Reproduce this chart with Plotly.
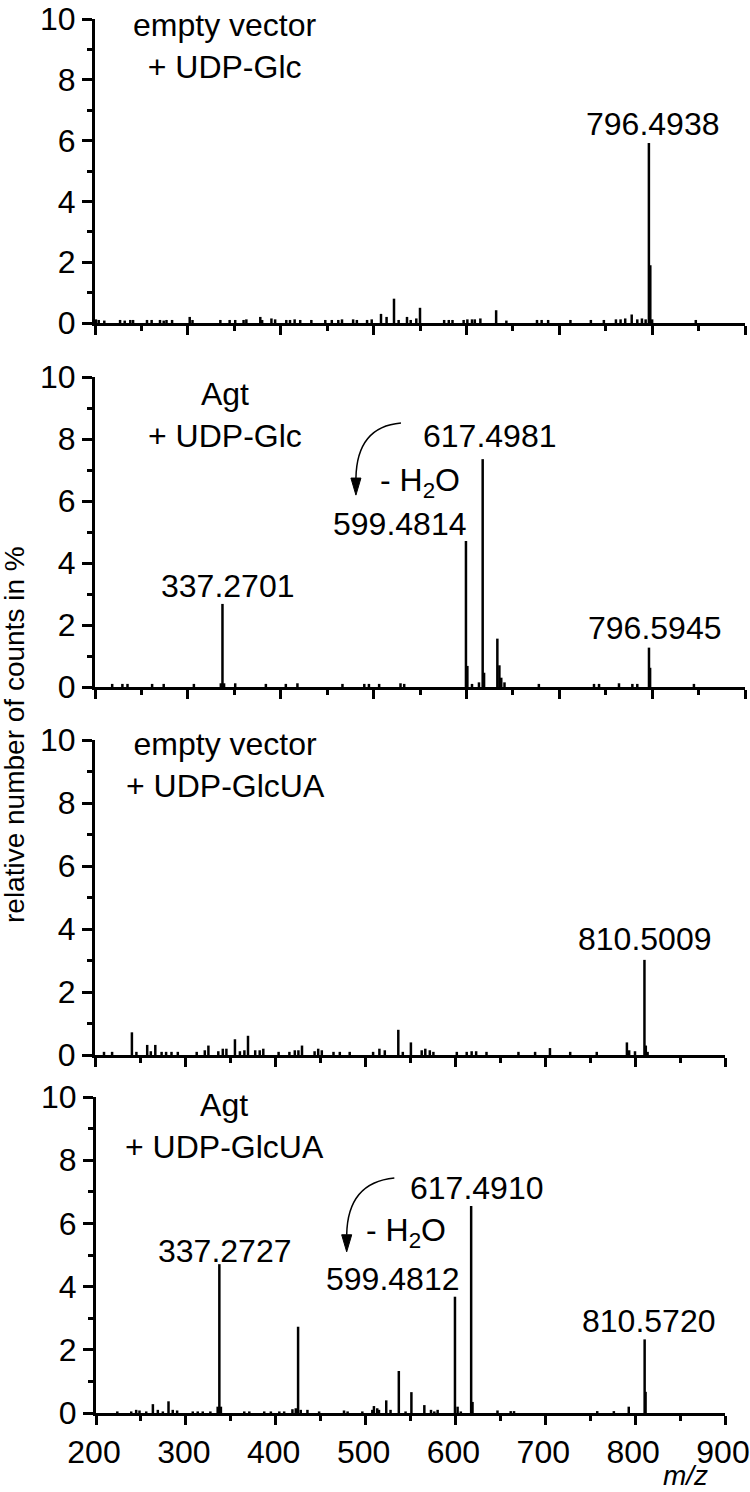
import plotly.graph_objects as go

# ---------------- data ----------------
# Panel 1: empty vector + UDP-Glc
p1_mz = [201, 204, 210, 227, 232, 238, 241, 256, 261, 270, 274, 277, 283, 302, 305, 335, 345, 351,
         360, 363, 378, 380, 390, 394, 406, 410, 415, 421, 433, 448, 455, 462, 466, 478, 482, 493,
         498, 508, 514, 522, 527, 536, 540, 546, 550, 576, 581, 585, 597, 601, 606, 609, 615, 632,
         643, 676, 681, 688, 712, 734, 748, 761, 766, 771, 778, 784, 789, 793, 796.4938, 798, 800, 847]
p1_int = [0.12, 0.1, 0.08, 0.1, 0.08, 0.1, 0.1, 0.1, 0.1, 0.1, 0.08, 0.1, 0.1, 0.2, 0.1, 0.1, 0.1, 0.1,
          0.1, 0.12, 0.2, 0.1, 0.15, 0.12, 0.1, 0.1, 0.12, 0.1, 0.1, 0.1, 0.1, 0.1, 0.12, 0.12, 0.1, 0.1,
          0.12, 0.3, 0.2, 0.8, 0.1, 0.2, 0.1, 0.15, 0.5, 0.1, 0.1, 0.1, 0.1, 0.12, 0.12, 0.12, 0.15, 0.42,
          0.08, 0.1, 0.1, 0.1, 0.1, 0.1, 0.1, 0.12, 0.12, 0.15, 0.28, 0.12, 0.15, 0.12, 5.92, 1.9, 0.12, 0.1]

# Panel 2: Agt + UDP-Glc
p2_mz = [218.5, 229.5, 235, 261.5, 274, 306.5, 335.5, 337.2701, 339, 351, 384, 405.5, 418, 466.5, 490,
         495, 506, 529, 533, 599.4814, 601, 606, 613.5, 617.4981, 619, 633.3, 635.5, 637.5, 641, 678,
         737.4, 742.8, 764.3, 778.7, 784, 796.5945, 797.8, 845]
p2_int = [0.1, 0.1, 0.1, 0.1, 0.1, 0.1, 0.12, 2.68, 0.12, 0.12, 0.1, 0.1, 0.12, 0.1, 0.1,
          0.1, 0.1, 0.12, 0.1, 4.71, 0.68, 0.1, 0.15, 7.35, 0.46, 1.56, 0.7, 0.3, 0.15, 0.1,
          0.1, 0.1, 0.12, 0.1, 0.1, 1.27, 0.62, 0.1]

# Panel 3: empty vector + UDP-GlcUA
p3_mz = [210, 219, 241, 246, 258, 262, 267, 274, 279, 285, 292, 313, 322, 326, 337, 342, 346, 355.5,
         361, 366, 370, 378, 383, 387, 404, 416, 422, 426, 430, 444, 448, 452, 465, 472, 483, 509,
         516, 522, 537, 542, 551, 563, 567, 572, 576, 602, 613, 618.5, 623.5, 635, 670.5, 689,
         705.5, 728, 757.5, 791, 793.5, 800, 810.5009, 812, 814]
p3_int = [0.1, 0.1, 0.72, 0.1, 0.32, 0.12, 0.32, 0.1, 0.1, 0.1, 0.1, 0.1, 0.15, 0.3, 0.12, 0.2, 0.2, 0.5,
          0.12, 0.15, 0.61, 0.15, 0.15, 0.2, 0.1, 0.1, 0.15, 0.15, 0.3, 0.12, 0.2, 0.15, 0.1, 0.1, 0.1, 0.1,
          0.2, 0.15, 0.8, 0.1, 0.4, 0.15, 0.2, 0.15, 0.1, 0.1, 0.1, 0.12, 0.12, 0.1, 0.1, 0.1,
          0.22, 0.1, 0.1, 0.4, 0.15, 0.12, 3.02, 0.3, 0.1]

# Panel 4: Agt + UDP-GlcUA
p4_mz = [223.7, 239.2, 244.7, 248.4, 255.9, 263.3, 268.8, 274.4, 280.7, 285.4, 290.3, 307.7, 313.2,
         318.8, 327.3, 335.4, 337.2727, 339, 365, 370.6, 387.2, 394.6, 404, 409.4, 418.6, 422.3, 424.9,
         427.9, 435.3, 448.3, 476, 480, 496.4, 507.5, 509.3, 513, 514.9, 523, 527.8, 537, 544.5, 551,
         565.4, 572.8, 576.5, 580.2, 599.4812, 602.4, 606, 617.4910, 619, 646.8, 661.5, 665.2, 757.8,
         776.3, 792.9, 810.5720, 811.6]
p4_int = [0.05, 0.05, 0.1, 0.08, 0.05, 0.28, 0.1, 0.05, 0.37, 0.1, 0.08, 0.05, 0.05,
          0.05, 0.05, 0.2, 4.71, 0.2, 0.05, 0.05, 0.05, 0.05, 0.05, 0.05, 0.12, 0.15, 2.73,
          0.1, 0.1, 0.05, 0.08, 0.05, 0.05, 0.1, 0.22, 0.15, 0.1, 0.4, 0.1, 1.33, 0.05, 0.66,
          0.25, 0.1, 0.05, 0.1, 3.68, 0.2, 0.05, 6.55, 0.35, 0.08, 0.06, 0.06, 0.06,
          0.06, 0.2, 2.33, 0.67]

panel_titles = ["empty vector<br>+ UDP-Glc", "Agt<br>+ UDP-Glc",
                "empty vector<br>+ UDP-GlcUA", "Agt<br>+ UDP-GlcUA"]
p1_labels = ["796.4938"]
p2_labels = ["617.4981", "599.4814", "337.2701", "796.5945"]
p3_labels = ["810.5009"]
p4_labels = ["617.4910", "599.4812", "337.2727", "810.5720"]
x_ticks = [200, 300, 400, 500, 600, 700, 800, 900]
y_ticks = [0, 2, 4, 6, 8, 10]

FONT = "Liberation Sans, Arial, Helvetica, sans-serif"
FS = 32
W, H = 750, 1492

# panel plot areas in page pixels: (x0, x1, ytop, ybottom)
areas = [(95, 745, 19, 323), (95, 745, 377, 687), (95, 725, 740, 1055), (96, 725, 1097, 1413)]

fig = go.Figure()


def sticks(mz, h):
    xs, ys = [], []
    for m, v in zip(mz, h):
        xs += [m, m, None]
        ys += [0, v, None]
    return xs, ys


series = [(p1_mz, p1_int), (p2_mz, p2_int), (p3_mz, p3_int), (p4_mz, p4_int)]
for i, (mz, h) in enumerate(series):
    xs, ys = sticks(mz, h)
    sfx = "" if i == 0 else str(i + 1)
    fig.add_trace(go.Scatter(x=xs, y=ys, mode="lines", line=dict(color="black", width=2.5),
                             xaxis="x" + sfx, yaxis="y" + sfx, showlegend=False, hoverinfo="skip",
                             cliponaxis=False))

layout = dict(width=W, height=H, margin=dict(l=0, r=0, t=0, b=0, pad=0, autoexpand=False),
              paper_bgcolor="white", plot_bgcolor="white",
              font=dict(family=FONT, size=FS, color="black"), showlegend=False)


def px_x(p):
    return p / W


def px_y(p):
    return 1 - p / H


for i, (x0, x1, yt, yb) in enumerate(areas):
    sfx = "" if i == 0 else str(i + 1)
    layout["xaxis" + sfx] = dict(
        domain=[px_x(x0), px_x(x1)], anchor="y" + sfx, range=[200, 900], showgrid=False,
        zeroline=False, automargin=False, showline=True, linewidth=3, linecolor="black",
        ticks="outside", ticklen=9, tickwidth=2.5, tickcolor="black", tickvals=x_ticks,
        showticklabels=(i == 3), ticklabeloverflow="allow", ticklabelshift=-2,
        tickfont=dict(family=FONT, size=FS),
        minor=dict(dtick=50, tick0=250, ticks="outside", ticklen=5, tickwidth=2.5, tickcolor="black",
                   showgrid=False))
    layout["yaxis" + sfx] = dict(
        domain=[px_y(yb), px_y(yt)], anchor="x" + sfx, range=[0, 10], showgrid=False,
        zeroline=False, automargin=False, showline=True, linewidth=3, linecolor="black",
        ticks="outside", ticklen=10, tickwidth=2.5, tickcolor="black", tickvals=y_ticks,
        ticklabeloverflow="allow", tickfont=dict(family=FONT, size=FS),
        minor=dict(dtick=1, tick0=1, ticks="outside", ticklen=5, tickwidth=2.5, tickcolor="black",
                   showgrid=False))

ann = []


def txt(text, x, y, ax, size=FS, **kw):
    d = dict(text=text, x=x, y=y, xref="x" + ax, yref="y" + ax, showarrow=False,
             font=dict(family=FONT, size=size, color="black"), xanchor="center", yanchor="middle")
    d.update(kw)
    ann.append(d)


# panel titles
txt(panel_titles[0], 340, 9.1, "")
txt(panel_titles[1], 340, 8.77, "2")
txt(panel_titles[2], 345, 9.2, "3")
txt(panel_titles[3], 343, 9.08, "4")

# peak labels
txt(p1_labels[0], 800, 6.56, "")
txt(p2_labels[0], 625, 8.1, "2")
txt(p2_labels[1], 528, 5.26, "2")
txt(p2_labels[2], 343, 3.26, "2")
txt(p2_labels[3], 802, 1.9, "2")
txt(p3_labels[0], 811, 3.68, "3")
txt(p4_labels[0], 623, 7.12, "4")
txt(p4_labels[1], 530, 4.24, "4")
txt(p4_labels[2], 343, 5.13, "4")
txt(p4_labels[3], 815, 2.91, "4")

# water loss
txt("- H<sub>2</sub>O", 550, 6.6, "2")
txt("- H<sub>2</sub>O", 545, 5.7, "4")

# axis titles
ann.append(dict(text="relative number of counts in %", x=px_x(14), y=px_y(735), xref="paper",
                yref="paper", showarrow=False, textangle=-90, xanchor="center", yanchor="middle",
                font=dict(family=FONT, size=28, color="black")))
ann.append(dict(text="<i>m/z</i>", x=px_x(685), y=px_y(1475), xref="paper", yref="paper",
                showarrow=False, xanchor="center", yanchor="middle",
                font=dict(family=FONT, size=28, color="black")))
layout["annotations"] = ann

# curved arrows (decorations)
shapes = [
    dict(type="path", xref="x2", yref="y2", path="M 529.5,8.52 Q 482,8.4 481,6.74",
         line=dict(color="black", width=1.5)),
    dict(type="path", xref="x2", yref="y2", path="M 475.6,6.74 L 486.4,6.74 L 481,6.19 Z",
         fillcolor="black", line=dict(color="black", width=1)),
    dict(type="path", xref="x4", yref="y4", path="M 532,7.44 Q 480,7.3 479,5.64",
         line=dict(color="black", width=1.5)),
    dict(type="path", xref="x4", yref="y4", path="M 473.4,5.64 L 484.6,5.64 L 479,5.1 Z",
         fillcolor="black", line=dict(color="black", width=1)),
]
layout["shapes"] = shapes

fig.update_layout(**layout)
fig.write_html("out.html", config={"displayModeBar": False},
               post_script="document.body.style.margin='0px';document.body.style.padding='0px';")
